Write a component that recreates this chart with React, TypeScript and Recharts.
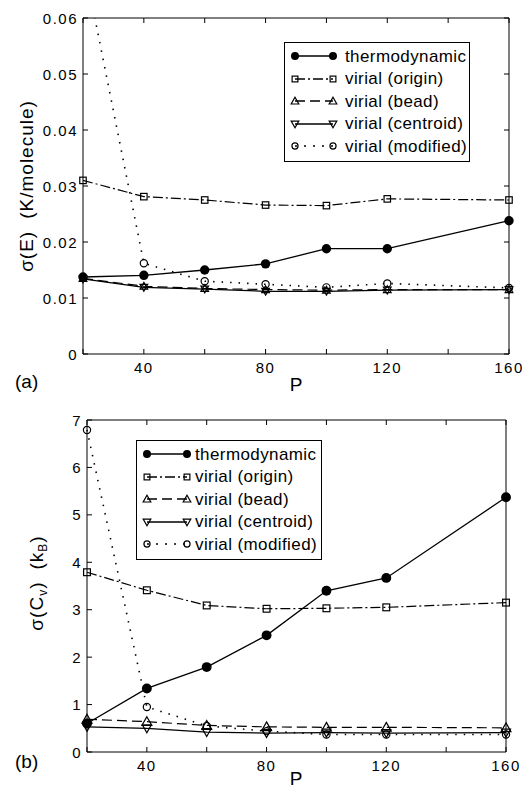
import { LineChart, Line, XAxis, YAxis, Legend } from 'recharts';

const FONT = '"Liberation Sans", Arial, Helvetica, sans-serif';

// Trotter number P
const P = [20, 40, 60, 80, 100, 120, 160];

// (a) sigma(E) in K/molecule
const energyThermo = [0.01375, 0.01405, 0.015, 0.0161, 0.0188, 0.0188, 0.0238];
const energyOrigin = [0.031, 0.0281, 0.0275, 0.0266, 0.0265, 0.0277, 0.0275];
const energyBead = [0.0135, 0.0121, 0.0117, 0.0115, 0.0114, 0.0115, 0.0115];
const energyCentroid = [0.0134, 0.0119, 0.0116, 0.0112, 0.0112, 0.0114, 0.0115];
const energyModified = [0.0706, 0.0162, 0.013, 0.01245, 0.0119, 0.0126, 0.0118];

// (b) sigma(Cv) in kB
const cvThermo = [0.6, 1.34, 1.79, 2.46, 3.4, 3.67, 5.37];
const cvOrigin = [3.79, 3.41, 3.09, 3.02, 3.03, 3.05, 3.15];
const cvBead = [0.69, 0.64, 0.56, 0.53, 0.52, 0.52, 0.51];
const cvCentroid = [0.53, 0.5, 0.42, 0.4, 0.41, 0.4, 0.41];
const cvModified = [6.79, 0.95, 0.55, 0.44, 0.37, 0.37, 0.37];

const xTicks = [20, 40, 60, 80, 100, 120, 140, 160];
const xLabelled = [40, 80, 120, 160];
const energyTicks = [0, 0.01, 0.02, 0.03, 0.04, 0.05, 0.06];
const cvTicks = [0, 1, 2, 3, 4, 5, 6, 7];

type Shape = 'disc' | 'square' | 'up' | 'down' | 'ring';

const SERIES: { key: string; name: string; shape: Shape; dash?: string }[] = [
  { key: 'thermo', name: 'thermodynamic', shape: 'disc' },
  { key: 'origin', name: 'virial (origin)', shape: 'square', dash: '10 3 2 3' },
  { key: 'bead', name: 'virial (bead)', shape: 'up', dash: '10 5' },
  { key: 'centroid', name: 'virial (centroid)', shape: 'down' },
  { key: 'modified', name: 'virial (modified)', shape: 'ring', dash: '2 7' },
];

function Marker({ shape, cx, cy, s = 1 }: { shape: Shape; cx: number; cy: number; s?: number }) {
  const k = { stroke: '#000', strokeWidth: 1.2, fill: 'none' };
  switch (shape) {
    case 'disc':
      return <circle cx={cx} cy={cy} r={4.7 * s} fill="#000" />;
    case 'square':
      return <rect x={cx - 3.4 * s} y={cy - 3.4 * s} width={6.8 * s} height={6.8 * s} {...k} />;
    case 'up':
      return <path d={`M${cx},${cy - 4.5 * s}L${cx + 4.5 * s},${cy + 3.5 * s}L${cx - 4.5 * s},${cy + 3.5 * s}Z`} {...k} />;
    case 'down':
      return <path d={`M${cx},${cy + 4.5 * s}L${cx + 4.5 * s},${cy - 3.5 * s}L${cx - 4.5 * s},${cy - 3.5 * s}Z`} {...k} />;
    default:
      return <circle cx={cx} cy={cy} r={3.6 * s} {...k} />;
  }
}

const dotFor = (shape: Shape, s: number) => (props: any) => {
  const { cx, cy, index } = props;
  if (cx == null || cy == null || Number.isNaN(cy)) return <g key={`d-${index}`} />;
  return <Marker key={`d-${index}`} shape={shape} cx={cx} cy={cy} s={s} />;
};

const bottomTick = (props: any) => {
  const { x, y, payload } = props;
  return (
    <g>
      <line x1={x} y1={y} x2={x} y2={y - 5} stroke="#000" />
      {xLabelled.includes(payload.value) && (
        <text x={x} y={y + 19} textAnchor="middle" fontFamily={FONT} fontSize={15} letterSpacing={1.5} fill="#000">
          {payload.value}
        </text>
      )}
    </g>
  );
};

const topTick = (props: any) => <line x1={props.x} y1={props.y} x2={props.x} y2={props.y + 5} stroke="#000" />;
const rightTick = (props: any) => <line x1={props.x} y1={props.y} x2={props.x - 5} y2={props.y} stroke="#000" />;

const leftTick = (fmt: (v: number) => string) => (props: any) => {
  const { x, y, payload } = props;
  return (
    <g>
      <line x1={x} y1={y} x2={x + 5} y2={y} stroke="#000" />
      <text x={x - 5} y={y + 5.5} textAnchor="end" fontFamily={FONT} fontSize={15} letterSpacing={1.5} fill="#000">
        {fmt(payload.value)}
      </text>
    </g>
  );
};

function LegendBox({ left, right, textAt }: { left: number; right: number; textAt: number }) {
  return (
    <div style={{ border: '1px solid #000', background: '#fff', padding: '2px 0 3px 0', fontFamily: FONT, fontSize: 17, letterSpacing: 0.4, color: '#000' }}>
      {SERIES.map((s) => (
        <div key={s.key} style={{ height: 22.5, display: 'flex', alignItems: 'center' }}>
          <svg width={textAt} height={20} style={{ flex: 'none' }}>
            <line x1={left} x2={right} y1={10} y2={10} stroke="#000" strokeWidth={1.3} strokeDasharray={s.dash} />
            <Marker shape={s.shape} cx={left} cy={10} s={0.85} />
            <Marker shape={s.shape} cx={right} cy={10} s={0.85} />
          </svg>
          <span style={{ whiteSpace: 'nowrap', lineHeight: 1 }}>{s.name}</span>
        </div>
      ))}
    </div>
  );
}

const axisCommon = {
  tickSize: 0,
  tickMargin: 0,
  tickLine: false,
  interval: 0 as const,
  axisLine: { stroke: '#000' },
};

function EnergyChart() {
  const yMax = 0.06;
  const rows = P.map((p, i) => ({
    P: p,
    thermo: energyThermo[i],
    origin: energyOrigin[i],
    bead: energyBead[i],
    centroid: energyCentroid[i],
    modified: energyModified[i],
    modifiedDots: energyModified[i] <= yMax ? energyModified[i] : null,
  }));
  const fmt = (v: number) => (v === 0 ? '0' : v.toFixed(2));
  return (
    <LineChart width={526} height={394} data={rows} margin={{ top: 17, right: 16, bottom: 39, left: 82 }}>
      <XAxis
        dataKey="P" type="number" domain={[20, 160]} ticks={xTicks} height={1} {...axisCommon} tick={bottomTick}
        label={() => (
          <g fontFamily={FONT} fontSize={19} fill="#000">
            <text x={296} y={391} textAnchor="middle">P</text>
            <text x={15} y={388}>(a)</text>
          </g>
        )}
      />
      <XAxis xAxisId="top" orientation="top" dataKey="P" type="number" domain={[20, 160]} ticks={xTicks}
        height={1} {...axisCommon} tick={topTick} />
      <YAxis
        yAxisId="left" type="number" domain={[0, yMax]} ticks={energyTicks} width={1} {...axisCommon} tick={leftTick(fmt)}
        label={() => (
          <text transform="translate(33,186) rotate(-90)" textAnchor="middle" fontFamily={FONT} fontSize={19} letterSpacing={1} fill="#000">
            <tspan>σ(E)</tspan>
            <tspan dx={12}>(K/molecule)</tspan>
          </text>
        )}
      />
      <YAxis yAxisId="right" orientation="right" type="number" domain={[0, yMax]} allowDataOverflow ticks={energyTicks}
        width={1} {...axisCommon} tick={rightTick} />
      <Legend layout="horizontal" verticalAlign="middle" align="center"
        wrapperStyle={{ left: 284, top: 42, width: 186 }}
        content={() => <LegendBox left={10} right={48} textAt={60} />} />
      <Line yAxisId="left" dataKey="thermo" stroke="#000" strokeWidth={1.3} dot={dotFor('disc', 1)} isAnimationActive={false} />
      <Line yAxisId="left" dataKey="origin" stroke="#000" strokeWidth={1.2} strokeDasharray="10 3 2 3" dot={dotFor('square', 0.95)} isAnimationActive={false} />
      <Line yAxisId="left" dataKey="bead" stroke="#000" strokeWidth={1.2} strokeDasharray="10 5" dot={dotFor('up', 0.85)} isAnimationActive={false} />
      <Line yAxisId="left" dataKey="centroid" stroke="#000" strokeWidth={1.3} dot={dotFor('down', 0.85)} isAnimationActive={false} />
      <Line yAxisId="right" dataKey="modified" stroke="#000" strokeWidth={1.6} strokeDasharray="1.5 7" dot={false} isAnimationActive={false} />
      <Line yAxisId="left" dataKey="modifiedDots" stroke="none" legendType="none" dot={dotFor('ring', 1)} isAnimationActive={false} />
    </LineChart>
  );
}

function CvChart() {
  const rows = P.map((p, i) => ({
    P: p,
    thermo: cvThermo[i],
    origin: cvOrigin[i],
    bead: cvBead[i],
    centroid: cvCentroid[i],
    modified: cvModified[i],
  }));
  return (
    <LineChart width={526} height={394} data={rows} margin={{ top: 25, right: 19, bottom: 35, left: 86 }}>
      <XAxis
        dataKey="P" type="number" domain={[20, 160]} ticks={xTicks} height={1} {...axisCommon} tick={bottomTick}
        label={() => (
          <g fontFamily={FONT} fontSize={19} fill="#000">
            <text x={296} y={391} textAnchor="middle">P</text>
            <text x={15} y={374}>(b)</text>
          </g>
        )}
      />
      <XAxis xAxisId="top" orientation="top" dataKey="P" type="number" domain={[20, 160]} ticks={xTicks}
        height={1} {...axisCommon} tick={topTick} />
      <YAxis
        yAxisId="left" type="number" domain={[0, 7]} ticks={cvTicks} width={1} {...axisCommon} tick={leftTick((v) => String(v))}
        label={() => (
          <text transform="translate(43,189) rotate(-90)" textAnchor="middle" fontFamily={FONT} fontSize={19} letterSpacing={1} fill="#000">
            <tspan>σ(C</tspan>
            <tspan fontSize={12} dy={4}>v</tspan>
            <tspan dy={-4}>)</tspan>
            <tspan dx={12}>(k</tspan>
            <tspan fontSize={12} dy={4}>B</tspan>
            <tspan dy={-4}>)</tspan>
          </text>
        )}
      />
      <YAxis yAxisId="right" orientation="right" type="number" domain={[0, 7]} ticks={cvTicks}
        width={1} {...axisCommon} tick={rightTick} />
      <Legend layout="horizontal" verticalAlign="middle" align="center"
        wrapperStyle={{ left: 136, top: 46, width: 186 }}
        content={() => <LegendBox left={10} right={50} textAt={58} />} />
      <Line yAxisId="left" dataKey="thermo" stroke="#000" strokeWidth={1.3} dot={dotFor('disc', 1.05)} isAnimationActive={false} />
      <Line yAxisId="left" dataKey="origin" stroke="#000" strokeWidth={1.2} strokeDasharray="10 3 2 3" dot={dotFor('square', 1)} isAnimationActive={false} />
      <Line yAxisId="left" dataKey="bead" stroke="#000" strokeWidth={1.2} strokeDasharray="10 5" dot={dotFor('up', 1.1)} isAnimationActive={false} />
      <Line yAxisId="left" dataKey="centroid" stroke="#000" strokeWidth={1.3} dot={dotFor('down', 1)} isAnimationActive={false} />
      <Line yAxisId="left" dataKey="modified" stroke="#000" strokeWidth={1.6} strokeDasharray="1.5 7" dot={dotFor('ring', 1)} isAnimationActive={false} />
    </LineChart>
  );
}

export default function App() {
  return (
    <div style={{ position: 'absolute', left: 0, top: 0, width: 526, height: 788, background: '#fff', overflow: 'hidden' }}>
      <div style={{ position: 'absolute', left: 0, top: 0 }}>
        <EnergyChart />
      </div>
      <div style={{ position: 'absolute', left: 0, top: 394 }}>
        <CvChart />
      </div>
    </div>
  );
}
